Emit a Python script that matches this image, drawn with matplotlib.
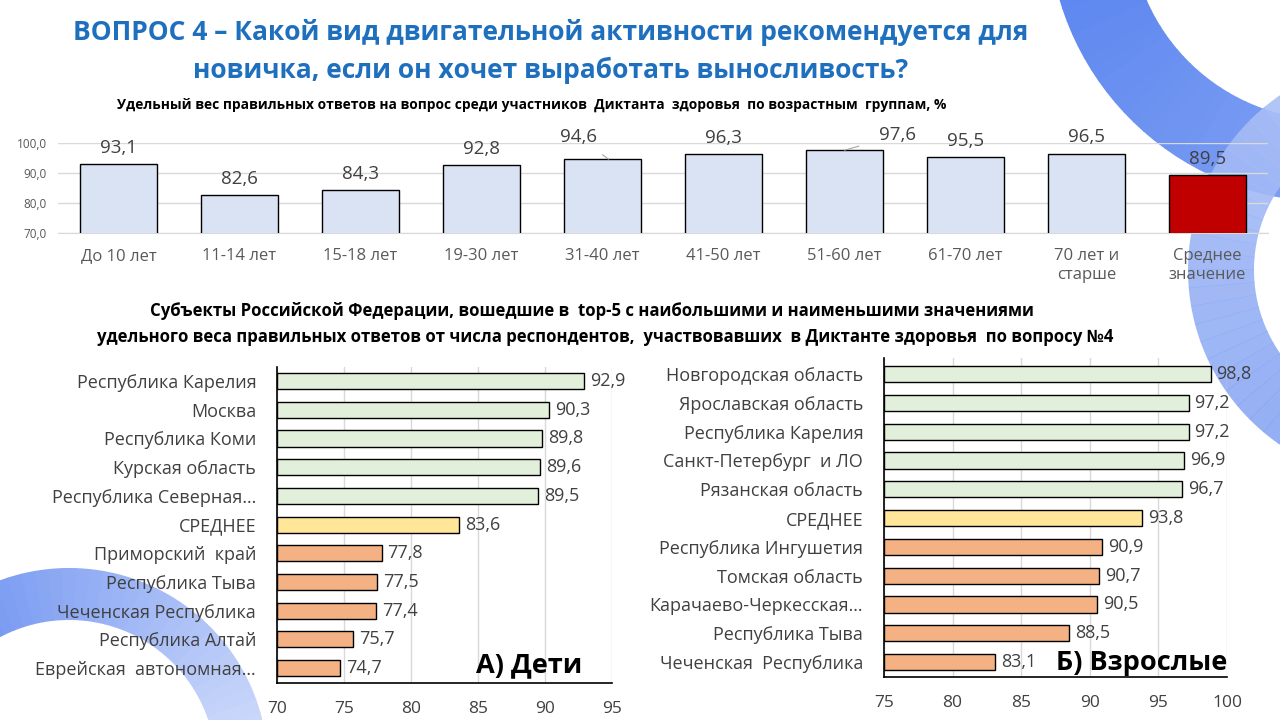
import matplotlib.pyplot as plt
from matplotlib.patches import Wedge
from matplotlib.colors import to_rgb

plt.rcParams['font.family'] = ['Open Sans', 'DejaVu Sans']

# top chart: age groups
age_groups = ["До 10 лет", "11-14 лет", "15-18 лет", "19-30 лет", "31-40 лет",
              "41-50 лет", "51-60 лет", "61-70 лет", "70 лет и\nстарше", "Среднее\nзначение"]
age_values = [93.1, 82.6, 84.3, 92.8, 94.6, 96.3, 97.6, 95.5, 96.5, 89.5]

# children
kids_regions = ["Республика Карелия", "Москва", "Республика Коми", "Курская область",
                "Республика Северная…", "СРЕДНЕЕ", "Приморский  край", "Республика Тыва",
                "Чеченская Республика", "Республика Алтай", "Еврейская  автономная…"]
kids_values = [92.9, 90.3, 89.8, 89.6, 89.5, 83.6, 77.8, 77.5, 77.4, 75.7, 74.7]

# adults
adult_regions = ["Новгородская область", "Ярославская область", "Республика Карелия",
                 "Санкт-Петербург  и ЛО", "Рязанская область", "СРЕДНЕЕ",
                 "Республика Ингушетия", "Томская область", "Карачаево-Черкесская…",
                 "Республика Тыва", "Чеченская  Республика"]
adult_values = [98.8, 97.2, 97.2, 96.9, 96.7, 93.8, 90.9, 90.7, 90.5, 88.5, 83.1]

W, H = 1280, 720


def fig_rect(x0, y0, x1, y1):
    # pixel box (y from top) -> figure fraction
    return [x0 / W, 1 - y1 / H, (x1 - x0) / W, (y1 - y0) / H]


def fmt(v):
    return f"{v:.1f}".replace(".", ",")


def ring(ax, center, r, width, t0, t1, c0, c1, steps=40, alpha=1.0):
    # ring segment with a colour fade from c0 to c1
    a, b = to_rgb(c0), to_rgb(c1)
    for k in range(steps):
        f = k / (steps - 1)
        col = tuple(a[j] + (b[j] - a[j]) * f for j in range(3))
        th0 = t0 + (t1 - t0) * k / steps
        th1 = t0 + (t1 - t0) * (k + 1) / steps + 0.3
        ax.add_patch(Wedge(center, r, th0, th1, width=width, color=col, alpha=alpha, lw=0))


fig = plt.figure(figsize=(12.8, 7.2), dpi=100)

# background decoration (y axis points down here)
bg = fig.add_axes([0, 0, 1, 1], zorder=-10)
bg.set_xlim(0, W)
bg.set_ylim(H, 0)
bg.axis("off")
ring(bg, (1330, -80), 282, 82, 90, 200, "#7FA0F3", "#4F7DEE")
ring(bg, (1400, 270), 212, 66, 90, 290, "#7F9FF2", "#B9CBF8", alpha=0.9)
ring(bg, (69, 767), 199, 52, 200, 360, "#5A83EE", "#D3DEFB")

# titles
fig.text(551 / W, 1 - 32 / H, "ВОПРОС 4 – Какой вид двигательной активности рекомендуется для",
         ha="center", va="center", fontsize=19, fontweight="bold", color="#1F6FBF")
fig.text(551 / W, 1 - 70 / H, "новичка, если он хочет выработать выносливость?",
         ha="center", va="center", fontsize=19, fontweight="bold", color="#1F6FBF")
fig.text(532 / W, 1 - 105 / H,
         "Удельный вес правильных ответов на вопрос среди участников  Диктанта  здоровья  по возрастным  группам, %",
         ha="center", va="center", fontsize=9.9, fontweight="bold", color="black")
fig.text(592 / W, 1 - 311 / H,
         "Субъекты Российской Федерации, вошедшие в  top-5 с наибольшими и наименьшими значениями",
         ha="center", va="center", fontsize=12.1, fontweight="bold", color="black")
fig.text(605 / W, 1 - 337 / H,
         "удельного веса правильных ответов от числа респондентов,  участвовавших  в Диктанте здоровья  по вопросу №4",
         ha="center", va="center", fontsize=12.1, fontweight="bold", color="black")

# ---- top chart
ax = fig.add_axes(fig_rect(58, 143, 1268, 233))
ax.patch.set_alpha(0)
colors = ["#DAE3F3"] * (len(age_values) - 1) + ["#C00000"]
x = range(len(age_values))
ax.bar(x, age_values, width=0.63, color=colors, edgecolor="black", linewidth=1, zorder=3)
ax.set_ylim(70, 100)
ax.set_xlim(-0.5, len(age_values) - 0.5)
ax.set_yticks([70, 80, 90, 100])
ax.set_yticklabels([fmt(t) for t in [70, 80, 90, 100]], fontsize=8.5, color="#595959")
ax.set_xticks(list(x))
ax.set_xticklabels(age_groups, fontsize=12, color="#595959")
ax.tick_params(length=0, pad=8)
ax.tick_params(axis="x", pad=11)
ax.grid(axis="y", color="#D9D9D9", linewidth=1, zorder=0)
for s in ["top", "right", "left"]:
    ax.spines[s].set_visible(False)
ax.spines["bottom"].set_color("#D9D9D9")
for i, v in enumerate(age_values):
    if i == 4:
        ax.annotate(fmt(v), xy=(i + 0.05, v), xytext=(-30, 22), textcoords="offset pixels",
                    ha="center", va="center", fontsize=13.5, color="#404040",
                    arrowprops=dict(arrowstyle="-", color="#A6A6A6", lw=0.8,
                                    shrinkA=7, shrinkB=0), annotation_clip=False)
    elif i == 6:
        ax.annotate(fmt(v), xy=(i, v), xytext=(53, 15), textcoords="offset pixels",
                    ha="center", va="center", fontsize=13.5, color="#404040",
                    arrowprops=dict(arrowstyle="-", color="#A6A6A6", lw=0.8,
                                    shrinkA=13, shrinkB=0), annotation_clip=False)
    else:
        ax.annotate(fmt(v), xy=(i, v), xytext=(0, 16), textcoords="offset pixels",
                    ha="center", va="center", fontsize=13.5, color="#404040",
                    annotation_clip=False)


def hbar(ax, labels, values, xlim, ticks, note):
    n = len(values)
    cols = ["#E2EFDA"] * 5 + ["#FFE699"] + ["#F4B183"] * (n - 6)
    ax.patch.set_alpha(0)
    ax.barh(range(n), [v - xlim[0] for v in values], left=xlim[0], height=0.56,
            color=cols, edgecolor="black", linewidth=1, zorder=3)
    ax.set_xlim(*xlim)
    ax.set_xticks(ticks)
    ax.set_xticklabels([str(t) for t in ticks], fontsize=12.5, color="#404040")
    ax.set_yticks(range(n))
    ax.set_yticklabels(labels, fontsize=13, color="#404040")
    ax.tick_params(length=0)
    ax.tick_params(axis="x", pad=13)
    ax.tick_params(axis="y", pad=15)
    ax.grid(axis="x", color="#D9D9D9", linewidth=1, zorder=0)
    for s in ["top", "right"]:
        ax.spines[s].set_visible(False)
    for s in ["left", "bottom"]:
        ax.spines[s].set_color("black")
        ax.spines[s].set_linewidth(1.2)
    for i, v in enumerate(values):
        ax.annotate(fmt(v), xy=(v, i), xytext=(6, 0), textcoords="offset pixels",
                    ha="left", va="center", fontsize=13, color="#404040",
                    annotation_clip=False)
    ax.text(note[0], note[1], note[2], transform=ax.transAxes, ha="right", va="center",
            fontsize=19.5, fontweight="bold", color="black")


ax1 = fig.add_axes(fig_rect(277, 367, 612, 683))
hbar(ax1, kids_regions, kids_values, (70, 95), [70, 75, 80, 85, 90, 95],
     (0.91, 0.055, "А) Дети"))
ax1.set_ylim(10.52, -0.49)

ax2 = fig.add_axes(fig_rect(884, 358, 1227, 677))
hbar(ax2, adult_regions, adult_values, (75, 100), [75, 80, 85, 90, 95, 100],
     (1.0, 0.045, "Б) Взрослые"))
ax2.set_ylim(10.52, -0.56)

fig.savefig("out.png", dpi=100)
